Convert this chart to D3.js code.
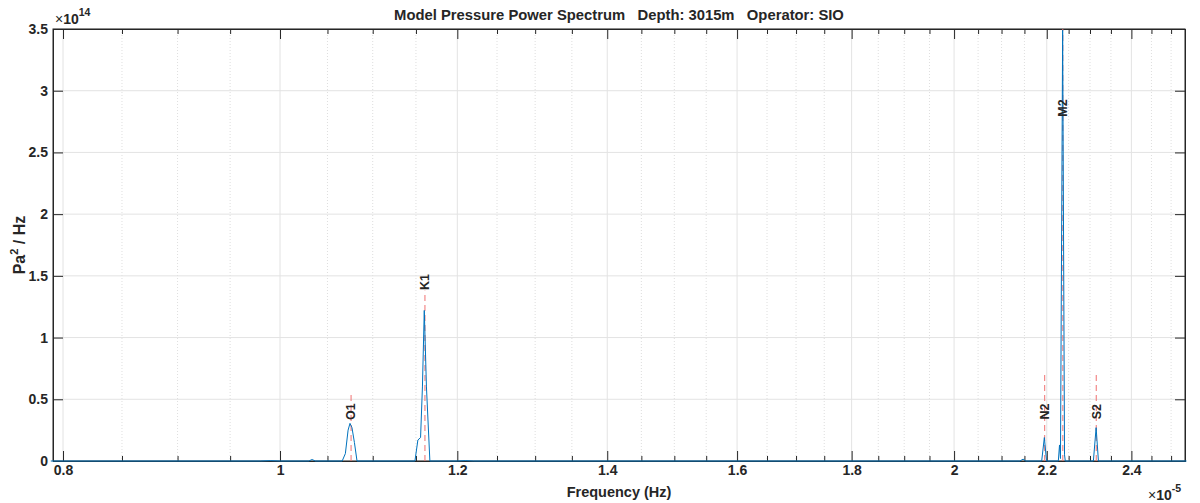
<!DOCTYPE html>
<html>
<head>
<meta charset="utf-8">
<script src="https://cdn.jsdelivr.net/npm/d3@7"></script>
<style>
body { margin: 0; background: #fff; }
text { font-family: "Liberation Sans", Arial, sans-serif; font-weight: bold; fill: #262626; }
</style>
</head>
<body>
<div id="chart"></div>
<script>
// frequency in units of 1e-5 Hz, power in units of 1e14 Pa^2/Hz
const freqs = [0.79, 0.98, 0.99, 1.0, 1.03, 1.0335, 1.037, 1.066, 1.0695, 1.0725, 1.0746, 1.0768, 1.0795, 1.0824,
  1.10, 1.1488, 1.1523, 1.1555, 1.1577, 1.1599, 1.1625, 1.1666, 1.20, 1.21, 1.22,
  2.14, 2.147, 2.153, 2.1885, 2.1945, 2.1995, 2.2263, 2.2290, 2.2312, 2.2362, 2.2405, 2.2423,
  2.3080, 2.3145, 2.3200, 2.54];
const power = [0, 0, 0.003, 0, 0, 0.012, 0, 0, 0.06, 0.25, 0.305, 0.27, 0.15, 0,
  0, 0, 0.17, 0.19, 0.6, 1.22, 0.6, 0, 0, 0.003, 0,
  0, 0.015, 0, 0, 0.19, 0, 0, 0.13, 0.02, 3.49, 0.05, 0,
  0, 0.27, 0, 0];

const constituents = ["O1", "K1", "N2", "M2", "S2"];
const constFreq = [1.0758, 1.1607, 2.1953, 2.2366, 2.3148];
const markerTop = [0.56, 1.38, 0.70, 3.5, 0.70];
const labelAt = [0.40, 1.45, 0.40, 2.86, 0.40];

const xMajor = [0.8, 1, 1.2, 1.4, 1.6, 1.8, 2, 2.2, 2.4];
const xMinor = [0.85, 0.9, 0.95, 1.05, 1.1, 1.15, 1.25, 1.3, 1.35, 1.45, 1.5, 1.55, 1.65, 1.7, 1.75,
  1.85, 1.9, 1.95, 2.05, 2.1, 2.15, 2.25, 2.3, 2.35, 2.45, 2.5];
const yTicks = [0, 0.5, 1, 1.5, 2, 2.5, 3, 3.5];

const svgWidth = 1200, svgHeight = 503;
const margin = {top: 29, right: 15, bottom: 42, left: 53};
const width = svgWidth - margin.left - margin.right;
const height = svgHeight - margin.top - margin.bottom;

const svg = d3.select("#chart").append("svg")
  .attr("width", svgWidth)
  .attr("height", svgHeight);

const g = svg.append("g")
  .attr("transform", `translate(${margin.left},${margin.top})`);

const x = d3.scaleLog().domain([0.7918, 2.536]).range([0, width]);
const y = d3.scaleLinear().domain([0, 3.5]).range([height, 0]);

// grid
g.selectAll(".minorgrid").data(xMinor).enter().append("line")
  .attr("x1", d => x(d)).attr("x2", d => x(d))
  .attr("y1", 0).attr("y2", height)
  .attr("stroke", "#c8c8c8").attr("stroke-width", 0.6)
  .attr("stroke-dasharray", "1,2");
g.selectAll(".xgrid").data(xMajor).enter().append("line")
  .attr("x1", d => x(d)).attr("x2", d => x(d))
  .attr("y1", 0).attr("y2", height)
  .attr("stroke", "#e3e3e3").attr("stroke-width", 1);
g.selectAll(".ygrid").data(yTicks).enter().append("line")
  .attr("x1", 0).attr("x2", width)
  .attr("y1", d => y(d)).attr("y2", d => y(d))
  .attr("stroke", "#e3e3e3").attr("stroke-width", 1);

// axes: ticks point inward like matlab
const bottomAxis = d3.axisBottom(x).tickValues(xMajor).tickSize(-10).tickPadding(4)
  .tickFormat(d => d3.format("~g")(d));
const xAx = g.append("g").attr("transform", `translate(0,${height})`).call(bottomAxis);
g.append("g").call(d3.axisTop(x).tickValues(xMajor).tickSize(-10).tickFormat(""));
g.append("g").attr("transform", `translate(0,${height})`)
  .call(d3.axisBottom(x).tickValues(xMinor).tickSize(-5).tickFormat(""));
g.append("g")
  .call(d3.axisTop(x).tickValues(xMinor).tickSize(-5).tickFormat(""));
const leftAxis = d3.axisLeft(y).tickValues(yTicks).tickSize(-10).tickPadding(5)
  .tickFormat(d => d3.format("~g")(d));
const yAx = g.append("g").call(leftAxis);
g.append("g").attr("transform", `translate(${width},0)`)
  .call(d3.axisRight(y).tickValues(yTicks).tickSize(-10).tickFormat(""));

g.selectAll(".domain").attr("stroke", "#262626");
g.selectAll(".tick line").attr("stroke", "#262626");
xAx.selectAll("text").style("font-size", "14px").attr("fill", "#262626");
yAx.selectAll("text").style("font-size", "14px").attr("fill", "#262626");
g.append("rect").attr("width", width).attr("height", height)
  .attr("fill", "none").attr("stroke", "#262626").attr("stroke-width", 1);

// constituent marker lines
g.selectAll(".marker").data(constFreq).enter().append("line")
  .attr("x1", d => x(d)).attr("x2", d => x(d))
  .attr("y1", y(0)).attr("y2", (d, i) => y(markerTop[i]))
  .attr("stroke", "#f07070").attr("stroke-width", 1)
  .attr("stroke-dasharray", "6,4");

// spectrum
const line = d3.line().x(d => x(d[0])).y(d => y(d[1]));
g.append("path")
  .datum(freqs.map((f, i) => [f, power[i]]))
  .attr("d", line)
  .attr("fill", "none")
  .attr("stroke", "#0072BD")
  .attr("stroke-width", 1);

// labels
g.selectAll(".clabel").data(constituents).enter().append("text")
  .attr("transform", (d, i) => `translate(${x(constFreq[i])},${y(labelAt[i])}) rotate(-90)`)
  .attr("text-anchor", "middle")
  .attr("dy", "0.35em")
  .style("font-size", "12.5px")
  .attr("fill", "#000")
  .text(d => d);

// title and axis labels
svg.append("text")
  .attr("x", margin.left + width / 2).attr("y", 20)
  .attr("text-anchor", "middle")
  .attr("xml:space", "preserve")
  .style("font-size", "14.8px").style("white-space", "pre")
  .attr("fill", "#000")
  .text("Model Pressure Power Spectrum   Depth: 3015m   Operator: SIO");

svg.append("text")
  .attr("x", margin.left + width / 2).attr("y", 497)
  .attr("text-anchor", "middle")
  .style("font-size", "14.5px")
  .text("Frequency (Hz)");

const ylab = svg.append("text")
  .attr("transform", `translate(25,${margin.top + height / 2}) rotate(-90)`)
  .attr("text-anchor", "middle")
  .style("font-size", "16px");
ylab.append("tspan").text("Pa");
ylab.append("tspan").attr("dy", -7).style("font-size", "11px").text("2");
ylab.append("tspan").attr("dy", 7).text(" / Hz");

// exponent labels
const e1 = svg.append("text").attr("x", 55).attr("y", 24).style("font-size", "14px");
e1.append("tspan").style("font-weight", "normal").text("\u00d7");
e1.append("tspan").text("10");
e1.append("tspan").attr("dy", -8).style("font-size", "10.5px").text("14");

const e2 = svg.append("text").attr("x", 1148).attr("y", 500).style("font-size", "14px");
e2.append("tspan").style("font-weight", "normal").text("\u00d7");
e2.append("tspan").text("10");
e2.append("tspan").attr("dy", -8).style("font-size", "10.5px").text("-5");
</script>
</body>
</html>
